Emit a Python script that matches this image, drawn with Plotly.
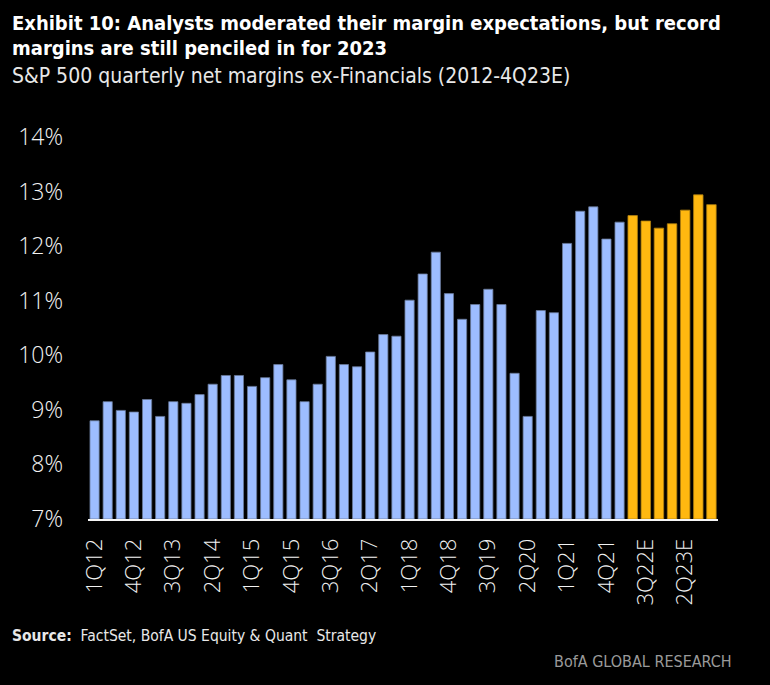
import plotly.graph_objects as go

quarters = [f"{q}Q{y}" for y in range(12, 24) for q in range(1, 5)]
actual_quarters = quarters[:41]
estimate_quarters = [q + "E" for q in quarters[41:]]
categories = actual_quarters + estimate_quarters

actual_values = [8.80, 9.15, 8.99, 8.96, 9.19, 8.88, 9.15, 9.12, 9.28, 9.47,
                 9.63, 9.63, 9.43, 9.59, 9.83, 9.55, 9.15, 9.47, 9.98, 9.83,
                 9.79, 10.06, 10.38, 10.35, 11.01, 11.49, 11.89, 11.13, 10.66, 10.93,
                 11.21, 10.93, 9.67, 8.88, 10.82, 10.78, 12.05, 12.64, 12.72, 12.13,
                 12.44]
estimate_values = [12.56, 12.46, 12.33, 12.41, 12.66, 12.94, 12.76]

tick_labels = categories[::3]
y_ticks = [7, 8, 9, 10, 11, 12, 13, 14]
y_tick_text = [f"{v}%" for v in y_ticks]

BLUE = "#9DBDFF"
ORANGE = "#FFB810"
COND = "DejaVu Sans Condensed, Roboto Condensed, Arial Narrow, Roboto, sans-serif"
L, R, T, B = 88, 52, 137, 166
W, H = 770, 685
PW, PH = W - L - R, H - T - B

def px_x(p):
    return (p - L) / PW

def px_y(p):
    return 1 - (p - T) / PH

fig = go.Figure()
fig.add_trace(go.Bar(x=actual_quarters, y=[v - 7 for v in actual_values], base=7,
                     marker=dict(color=BLUE, line=dict(color="#6a7a99", width=0.8)),
                     width=0.7, name="Actual", hoverinfo="x+y"))
fig.add_trace(go.Bar(x=estimate_quarters, y=[v - 7 for v in estimate_values], base=7,
                     marker=dict(color=ORANGE, line=dict(color="#b08010", width=0.8)),
                     width=0.72, name="Estimate", hoverinfo="x+y"))

fig.update_layout(
    width=W, height=H,
    margin=dict(l=L, r=R, t=T, b=B),
    paper_bgcolor="black", plot_bgcolor="black",
    barmode="overlay", showlegend=False,
    font=dict(family="Open Sans", color="#F2F2F2"),
    xaxis=dict(type="category", categoryorder="array", categoryarray=categories,
               range=[-0.5, len(categories) - 0.5],
               tickmode="array", tickvals=tick_labels, ticktext=tick_labels,
               tickangle=-90, tickfont=dict(size=22, family="Open Sans", weight=300, color="#F2F2F2"),
               showgrid=False, showline=True, linecolor="#F5F5F5", linewidth=2,
               ticks="", ticklabelstandoff=9, zeroline=False),
    yaxis=dict(range=[7, 14], tickmode="array", tickvals=y_ticks, ticktext=y_tick_text,
               tickfont=dict(size=23, family="Open Sans", weight=300, color="#F2F2F2"),
               showgrid=False, showline=False, zeroline=False, ticks="",
               ticklabelstandoff=24),
)

annots = [
    dict(text="<b>Exhibit 10: Analysts moderated their margin expectations, but record</b>",
         x=px_x(10), y=px_y(23), font=dict(size=20, family=COND, color="white")),
    dict(text="<b>margins are still penciled in for 2023</b>",
         x=px_x(10), y=px_y(48), font=dict(size=20, family=COND, color="white")),
    dict(text="S&P 500 quarterly net margins ex-Financials (2012-4Q23E)",
         x=px_x(10), y=px_y(76), font=dict(size=21, family=COND, color="#E8E8E8")),
    dict(text="<b>Source:</b>  FactSet, BofA US Equity & Quant  Strategy",
         x=px_x(10), y=px_y(636), font=dict(size=15.5, family=COND, color="#E8E8E8")),
]
for a in annots:
    fig.add_annotation(xref="paper", yref="paper", xanchor="left", yanchor="middle",
                       showarrow=False, **a)
fig.add_annotation(xref="paper", yref="paper", xanchor="right", yanchor="middle",
                   showarrow=False, x=px_x(734), y=px_y(661),
                   text="BofA GLOBAL RESEARCH",
                   font=dict(size=16, family=COND, color="#9a9a9a"))

fig.write_html("out.html", config={"displayModeBar": False},
               post_script="document.body.style.margin='0';")
